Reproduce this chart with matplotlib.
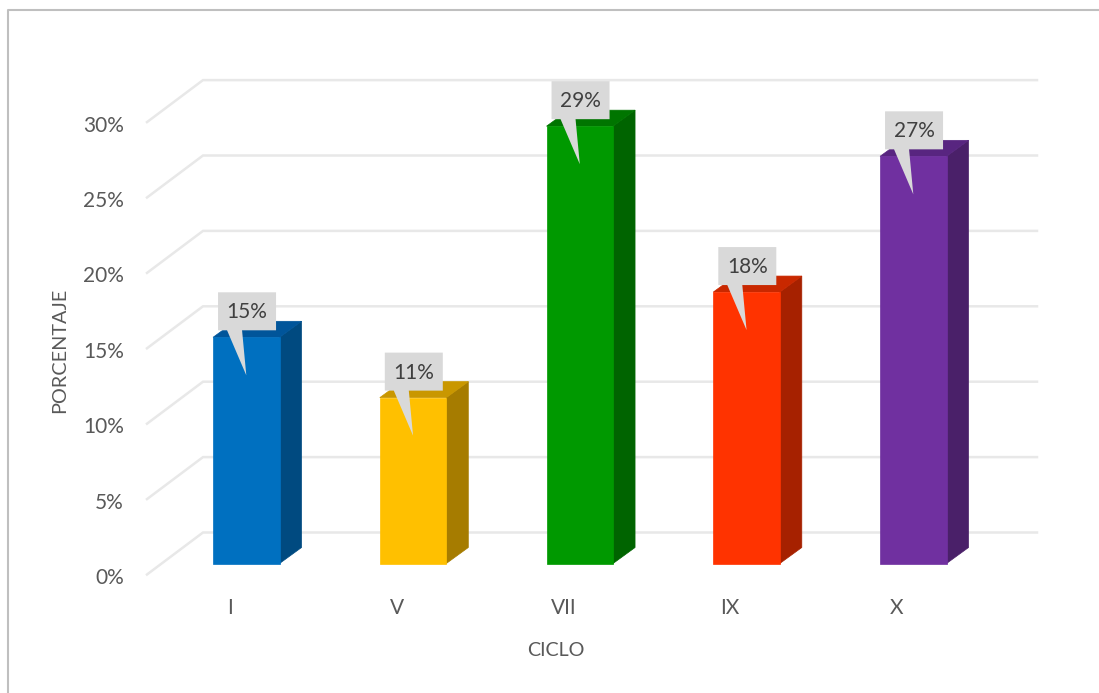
import matplotlib
matplotlib.use("Agg")
import matplotlib.pyplot as plt
from matplotlib.patches import Polygon

plt.rcParams['font.family'] = ['Lato', 'DejaVu Sans']

# Data
ciclos = ["I", "V", "VII", "IX", "X"]
porcentajes = [15, 11, 29, 18, 27]
y_ticks = [0, 5, 10, 15, 20, 25, 30]
front_colors = ["#0070c0", "#ffc000", "#009900", "#ff3300", "#7030a0"]
top_colors = ["#00559a", "#c99700", "#007500", "#c92800", "#582580"]
side_colors = ["#004a80", "#a67c00", "#006400", "#a62100", "#4a2069"]

W, H = 1099, 693
# size of one category / one percent in pixels
PX_X = 166.75
PX_Y = 15.08
X0_PX, Y0_PX = 246.3, 563.5  # bar I centre, base of the front of the bars

fig = plt.figure(figsize=(W / 100, H / 100), dpi=100)
ax = fig.add_axes([0, 0, 1, 1])
ax.set_xlim(-X0_PX / PX_X, (W - X0_PX) / PX_X)
ax.set_ylim(-(H - Y0_PX) / PX_Y, Y0_PX / PX_Y)
ax.axis("off")


def ox(px):
    return px / PX_X


def oy(px):
    return px / PX_Y


# outer chart border
fig.add_artist(plt.Line2D([8 / W, 8 / W, 1], [0, 1 - 10 / H, 1 - 10 / H],
                          color="#bfbfbf", lw=1.5, transform=fig.transFigure))

bar_w = ox(66.5)
depth_x, depth_y = ox(22), oy(16)
wall_dy = oy(31)
wall_left, wall_right = ox(203 - X0_PX), ox(1037 - X0_PX)
floor_x, floor_dy = ox(147 - X0_PX), oy(42)

# walls: back gridlines plus the slanted part on the left
for v in y_ticks:
    back = v + wall_dy
    ax.plot([floor_x, wall_left, wall_right], [back - floor_dy, back, back],
            color="#e8e8e8", lw=1.8, solid_joinstyle="miter", zorder=1)
    ax.text(ox(124 - X0_PX), v - oy(14.5), f"{v}%", ha="right", va="center",
            fontsize=15, color="#595959")

for i, v in enumerate(porcentajes):
    l, r = i - bar_w / 2, i + bar_w / 2
    ax.add_patch(Polygon([(r, 0), (r + depth_x, depth_y), (r + depth_x, v + depth_y), (r, v)],
                         fc=side_colors[i], ec=side_colors[i], lw=0.5, zorder=3))
    ax.add_patch(Polygon([(l, v), (l + depth_x, v + depth_y), (r + depth_x, v + depth_y), (r, v)],
                         fc=top_colors[i], ec=top_colors[i], lw=0.5, zorder=3))
    ax.add_patch(Polygon([(l, 0), (r, 0), (r, v), (l, v)],
                         fc=front_colors[i], ec=front_colors[i], lw=0.5, zorder=4))

    # callout with the value
    box_l, box_r = l + ox(5), l + ox(63)
    box_b, box_t = v + oy(7), v + oy(45)
    callout = [(box_l, box_t), (box_r, box_t), (box_r, box_b), (l + ox(29), box_b),
               (i, v - oy(38)), (l + ox(14), box_b), (box_l, box_b)]
    ax.add_patch(Polygon(callout, fc="#d9d9d9", ec="none", zorder=5))
    ax.text((box_l + box_r) / 2, (box_b + box_t) / 2 - oy(1), f"{v}%", ha="center", va="center",
            fontsize=15, color="#404040", zorder=6)

    ax.text(i - ox(16.5), -oy(44), ciclos[i], ha="center", va="center",
            fontsize=15, color="#595959")

ax.text(ox(556 - X0_PX), -oy(86.5), "CICLO", ha="center", va="center",
        fontsize=14.2, color="#595959")
ax.text(ox(60 - X0_PX), oy(Y0_PX - 350), "PORCENTAJE", ha="center", va="center",
        rotation=90, fontsize=14.3, color="#595959")

fig.savefig("out.png", dpi=100)
